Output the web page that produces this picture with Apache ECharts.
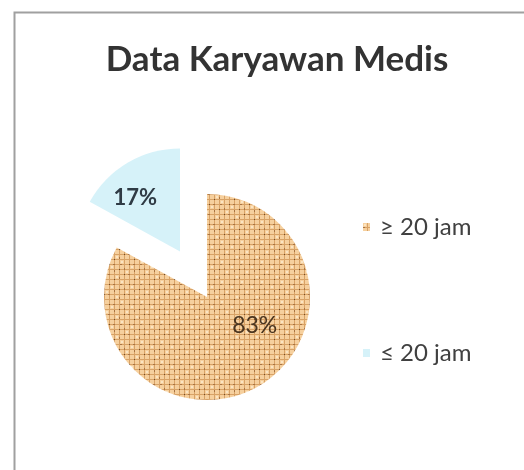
<!DOCTYPE html>
<html>
<head>
<meta charset="utf-8">
<script src="https://cdn.jsdelivr.net/npm/echarts@6/dist/echarts.min.js"></script>
<style>
html,body{margin:0;padding:0;background:#fff;}
#c{width:524px;height:470px;}
</style>
</head>
<body>
<div id="c"></div>
<script>
var titleText = 'Data Karyawan Medis';
var categories = ['\u2265 20 jam', '\u2264 20 jam'];
var values = [83, 17];

// woven burlap-like texture (deterministic)
function makeBurlap() {
  var cv = document.createElement('canvas');
  cv.width = 20; cv.height = 20;
  var ctx = cv.getContext('2d');
  ctx.fillStyle = '#f6d09e';
  ctx.fillRect(0, 0, 20, 20);
  ctx.fillStyle = '#d8a266';
  for (var i = 0; i < 20; i += 5) {
    ctx.fillRect(0, i + 4, 20, 1);
    ctx.fillRect(i + 4, 0, 1, 20);
  }
  ctx.fillStyle = '#fbe4c2';
  ctx.fillRect(1, 1, 2, 2); ctx.fillRect(11, 6, 2, 2);
  ctx.fillRect(6, 11, 2, 2); ctx.fillRect(16, 16, 2, 2);
  ctx.fillStyle = '#a87444';
  ctx.fillRect(4, 8, 1, 2); ctx.fillRect(13, 4, 2, 1);
  ctx.fillRect(8, 14, 2, 1); ctx.fillRect(19, 17, 1, 2);
  ctx.fillRect(0, 4, 2, 1); ctx.fillRect(14, 10, 1, 2);
  ctx.fillStyle = '#6f4e2c';
  ctx.fillRect(9, 4, 1, 1); ctx.fillRect(4, 14, 1, 1);
  ctx.fillRect(14, 19, 1, 1); ctx.fillRect(19, 9, 1, 1);
  return cv;
}
var burlap = makeBurlap();

var labelShift = [[20, -18], [-17, -7]];

var chart = echarts.init(document.getElementById('c'));
chart.setOption({
  animation: false,
  graphic: [{
    type: 'rect',
    shape: {x: 14.5, y: 12.5, width: 700, height: 700},
    style: {fill: '#fff', stroke: '#a0a0a0', lineWidth: 2},
    z: -10, silent: true
  }],
  title: {
    text: titleText,
    left: 272,
    textAlign: 'center',
    top: 37,
    textStyle: {fontFamily: 'Lato', fontWeight: 'bold', fontSize: 35, color: '#333333'}
  },
  legend: {
    orient: 'vertical',
    left: 358,
    top: 210,
    itemWidth: 7,
    itemHeight: 8,
    itemGap: 102,
    icon: 'rect',
    textStyle: {fontFamily: 'Lato', fontSize: 24, color: '#404040', padding: [0, 0, 0, 5]},
    data: categories
  },
  series: [{
    type: 'pie',
    center: [207, 297],
    radius: [0, 103],
    startAngle: 90,
    clockwise: true,
    selectedMode: 'multiple',
    selectedOffset: 53,
    avoidLabelOverlap: false,
    labelLine: {show: false},
    label: {
      show: true,
      position: 'inside',
      formatter: '{d}%',
      fontFamily: 'Lato',
      fontSize: 22,
      fontWeight: 'bold'
    },
    labelLayout: function (p) {
      var s = labelShift[p.dataIndex];
      return {dx: s[0], dy: s[1]};
    },
    data: [
      {name: categories[0], value: values[0],
        itemStyle: {color: {image: burlap, repeat: 'repeat'}},
        label: {color: '#4a3520', fontWeight: 'normal', fontSize: 23}},
      {name: categories[1], value: values[1], selected: true,
        itemStyle: {color: '#d6f2f9'},
        label: {color: '#2f3b45', fontWeight: 'bold', fontFamily: 'Lato', fontSize: 22}}
    ]
  }]
});
</script>
</body>
</html>
